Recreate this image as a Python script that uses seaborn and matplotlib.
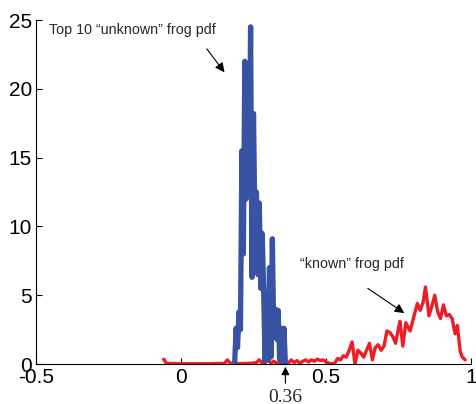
import matplotlib
matplotlib.use("Agg")
import matplotlib.pyplot as plt
import seaborn as sns
import pandas as pd

# "unknown" frog pdf (blue)
unknown_x = [0.185, 0.19, 0.195, 0.20, 0.205, 0.21, 0.215, 0.22, 0.225, 0.23,
             0.235, 0.24, 0.245, 0.25, 0.255, 0.26, 0.265, 0.27, 0.275, 0.28,
             0.285, 0.29, 0.295, 0.30, 0.305, 0.31, 0.315, 0.32, 0.325, 0.33,
             0.335, 0.34, 0.345, 0.35, 0.355, 0.36]
unknown_y = [0.0, 2.6, 1.2, 3.8, 2.5, 15.5, 8.0, 22.0, 12.0, 19.0,
             14.0, 24.5, 6.3, 18.2, 10.0, 12.5, 6.5, 11.7, 5.5, 9.5,
             5.4, 0.2, 5.2, 0.3, 7.0, 0.5, 9.1, 2.0, 4.0, 1.8,
             3.9, 0.3, 2.6, 0.2, 2.6, 0.0]

# "known" frog pdf (red)
known_x = [-0.06, -0.05, 0.0, 0.10, 0.15, 0.16, 0.17, 0.20, 0.24, 0.26,
           0.27, 0.28, 0.29, 0.30, 0.31, 0.32, 0.33, 0.35, 0.36, 0.37,
           0.38, 0.39, 0.40, 0.41, 0.42, 0.43, 0.44, 0.45, 0.46, 0.47,
           0.48, 0.49, 0.50, 0.51, 0.52, 0.53, 0.54, 0.55, 0.56, 0.57,
           0.58, 0.59, 0.60, 0.61, 0.62, 0.63, 0.64, 0.65, 0.66, 0.67,
           0.68, 0.69, 0.70, 0.71, 0.72, 0.73, 0.74, 0.75, 0.755, 0.765,
           0.775, 0.79, 0.80, 0.815, 0.825, 0.835, 0.843, 0.855, 0.865, 0.875,
           0.885, 0.895, 0.905, 0.915, 0.925, 0.935, 0.945, 0.953, 0.963, 0.97,
           0.98]
known_y = [0.35, 0.05, 0.02, 0.02, 0.05, 0.3, 0.05, 0.03, 0.05, 0.1,
           0.3, 0.05, 0.1, 0.35, 0.05, 0.2, 0.05, 0.1, 0.3, 0.05,
           0.3, 0.1, 0.25, 0.05, 0.2, 0.3, 0.15, 0.3, 0.2, 0.35,
           0.25, 0.3, 0.15, 0.05, 0.0, 0.05, 0.4, 0.3, 0.6, 0.5,
           1.0, 1.6, 0.0, 1.0, 0.8, 0.5, 1.0, 1.5, 0.3, 1.2,
           1.4, 1.0, 1.3, 2.4, 2.3, 2.0, 1.5, 2.6, 3.1, 1.3,
           3.0, 2.4, 3.2, 4.4, 3.9, 4.5, 5.6, 3.5, 4.2, 5.0,
           3.8, 3.3, 4.3, 3.5, 3.6, 3.3, 2.2, 2.8, 0.9, 0.5,
           0.3]

x_ticks = [-0.5, 0, 0.5, 1]
x_tick_labels = ["-0.5", "0", "0.5", "1"]
y_ticks = [0, 5, 10, 15, 20, 25]
y_tick_labels = ["0", "5", "10", "15", "20", "25"]

sns.set_style("ticks")
plt.rcParams["font.family"] = ["Liberation Sans", "DejaVu Sans"]

fig = plt.figure(figsize=(4.77, 4.04), dpi=100)
ax = fig.add_axes([36 / 477, 1 - 364 / 404, 435 / 477, 344 / 404])

known_df = pd.DataFrame({"x": known_x, "y": known_y})
unknown_df = pd.DataFrame({"x": unknown_x, "y": unknown_y})

sns.lineplot(data=known_df, x="x", y="y", ax=ax, color="#EE1C25",
             linewidth=2.4, estimator=None, sort=False)
sns.lineplot(data=unknown_df, x="x", y="y", ax=ax, color="#3953A4",
             linewidth=3.8, estimator=None, sort=False)

ax.set_xlim(-0.5, 1)
ax.set_ylim(0, 25)
ax.set_xticks(x_ticks)
ax.set_xticklabels(x_tick_labels)
ax.set_yticks(y_ticks)
ax.set_yticklabels(y_tick_labels)
ax.set_xlabel("")
ax.set_ylabel("")
for s in ["top", "right"]:
    ax.spines[s].set_visible(False)
for s in ["left", "bottom"]:
    ax.spines[s].set_linewidth(0.8)
    ax.spines[s].set_color("black")
ax.tick_params(direction="in", length=4, width=0.8, labelsize=15, pad=3,
               colors="black")

arrow_kw = dict(arrowstyle="-|>", color="black", lw=0.8,
                mutation_scale=14, shrinkA=0, shrinkB=0)

ax.text(-0.455, 24.3, "Top 10 \u201cunknown\u201d frog pdf", fontsize=10.3,
        va="center", ha="left")
ax.annotate("", xy=(0.15, 21.2), xytext=(0.089, 22.9), arrowprops=arrow_kw)
ax.text(0.41, 7.3, "\u201cknown\u201d frog pdf", fontsize=10.3, ha="left",
        va="center")
ax.annotate("", xy=(0.77, 3.7), xytext=(0.644, 5.5), arrowprops=arrow_kw)
ax.annotate("", xy=(0.36, -0.2), xytext=(0.36, -1.4),
            arrowprops=dict(arrow_kw, mutation_scale=12),
            annotation_clip=False)
ax.text(0.36, -2.4, "0.36", fontsize=14, ha="center", va="center",
        family=["Liberation Serif", "DejaVu Serif"], clip_on=False)

fig.savefig("out.png", dpi=100)
